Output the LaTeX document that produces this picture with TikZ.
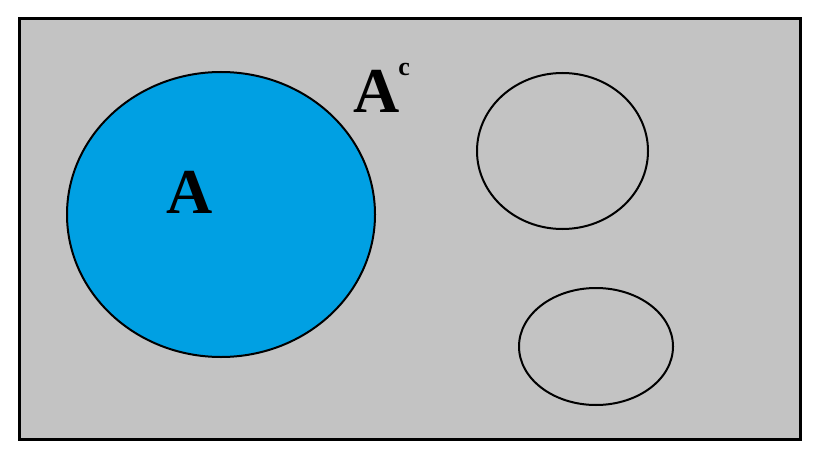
\documentclass[tikz,border=0pt]{standalone}
\usepackage{fontspec}
\setmainfont{Liberation Serif}
\usetikzlibrary{shapes.geometric}
\definecolor{bggray}{HTML}{C3C3C3}
\definecolor{setblue}{HTML}{00A0E3}
\tikzset{
  setshape/.style={ellipse, draw=black, line width=2pt, inner sep=0pt},
  setlabel/.style={font=\fontsize{64}{64}\selectfont\bfseries, inner sep=0pt, anchor=base}
}
\begin{document}
\begin{tikzpicture}[x=1pt,y=-1pt]
\useasboundingbox (0,0) rectangle (819,460);
\node[draw=black, line width=3pt, fill=bggray, minimum width=781pt, minimum height=420pt, inner sep=0pt] (U) at (410,229) {};
\node[setshape, fill=setblue, minimum width=308pt, minimum height=285pt] (SA) at (221,214.5) {};
\node[setshape, minimum width=171pt, minimum height=156pt] (S2) at (562.5,151) {};
\node[setshape, minimum width=154pt, minimum height=117pt] (S3) at (596,346.5) {};
\node[setlabel] (LA) at (190,213) {A};
\node[setlabel, anchor=base west] (LAc) at (353,112) {A\kern-1pt\raisebox{37pt}{\fontsize{26}{26}\selectfont c}};
\end{tikzpicture}
\end{document}
